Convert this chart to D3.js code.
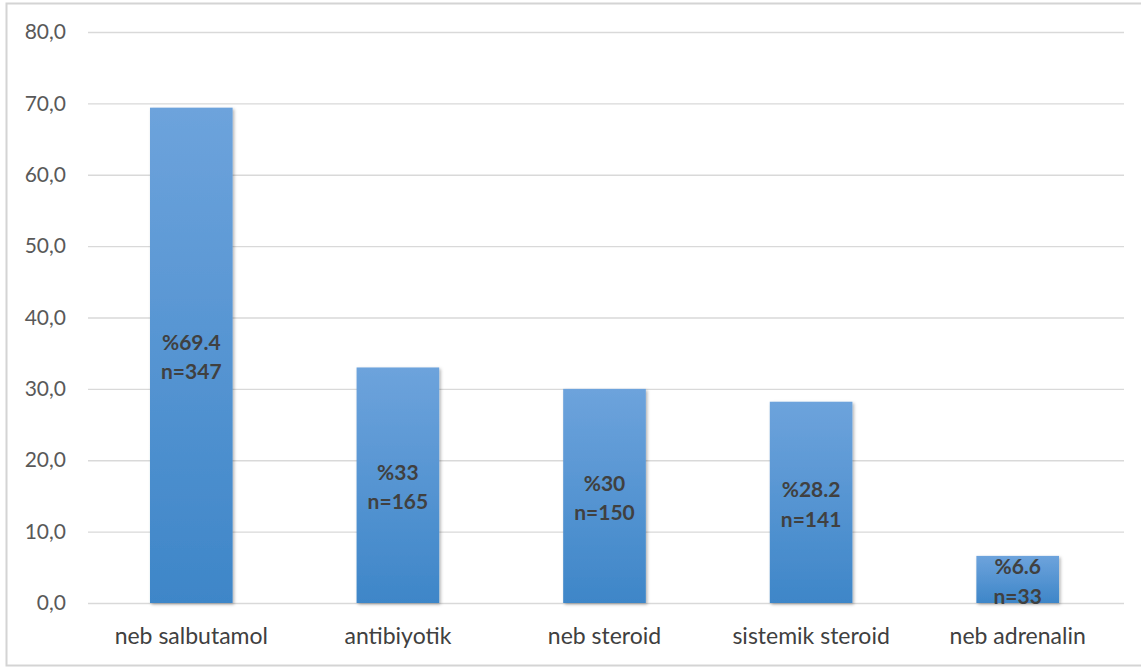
<!DOCTYPE html>
<html>
<head>
<meta charset="utf-8">
<script src="https://cdn.jsdelivr.net/npm/d3@7"></script>
<style>
  html, body { margin: 0; padding: 0; background: #fff; }
  svg { display: block; }
</style>
</head>
<body>
<svg id="chart" width="1141" height="668"></svg>
<script>
// Treatment categories, percentages and patient counts
const categories = ["neb salbutamol", "antibiyotik", "neb steroid", "sistemik steroid", "neb adrenalin"];
const percents = [69.4, 33, 30, 28.2, 6.6];
const counts = [347, 165, 150, 141, 33];
const percentLabels = ["%69.4", "%33", "%30", "%28.2", "%6.6"];
const yTicks = [0, 10, 20, 30, 40, 50, 60, 70, 80];

const svg = d3.select("#chart");
const W = 1141, H = 668;
const margin = { left: 88, right: 20, top: 32, bottom: 65 };
const fontFamily = "Lato, 'Open Sans', 'Liberation Sans', sans-serif";

// Outer frame of the chart area
svg.append("rect")
  .attr("x", 6.5).attr("y", 3.5)
  .attr("width", W + 10).attr("height", 662)
  .attr("fill", "#fff")
  .attr("stroke", "#d4d4d4")
  .attr("stroke-width", 2);

const x = d3.scaleBand()
  .domain(categories)
  .range([margin.left, W - margin.right])
  .paddingInner(0.6)
  .paddingOuter(0.3);

const y = d3.scaleLinear()
  .domain([0, 80])
  .range([H - margin.bottom, margin.top]);

// Gradient for bar fill
const defs = svg.append("defs");
const grad = defs.append("linearGradient")
  .attr("id", "barGrad")
  .attr("x1", 0).attr("y1", 0).attr("x2", 0).attr("y2", 1);
grad.append("stop").attr("offset", "0%").attr("stop-color", "#6da3dc");
grad.append("stop").attr("offset", "100%").attr("stop-color", "#3e86c8");

const shadow = defs.append("filter").attr("id", "barShadow")
  .attr("x", "-10%").attr("y", "-10%").attr("width", "130%").attr("height", "130%");
shadow.append("feDropShadow")
  .attr("dx", 1.5).attr("dy", 1.5).attr("stdDeviation", 1.5)
  .attr("flood-color", "#000").attr("flood-opacity", 0.3);

// Horizontal gridlines and y-axis labels
const yAxis = d3.axisLeft(y)
  .tickValues(yTicks)
  .tickSize(-(W - margin.right - margin.left + 3))
  .tickPadding(20)
  .tickFormat(d => d3.format(".1f")(d).replace(".", ","));

const gy = svg.append("g")
  .attr("transform", `translate(${margin.left},0)`)
  .call(yAxis);
gy.select(".domain").remove();
gy.selectAll(".tick line").attr("stroke", "#d9d9d9").attr("stroke-width", 1.3);
gy.selectAll(".tick text")
  .attr("fill", "#595959")
  .attr("font-family", fontFamily)
  .attr("font-size", 21)
  .attr("x", -22);

// Bars
const data = categories.map((c, i) => ({ c, v: percents[i], n: counts[i], p: percentLabels[i] }));

svg.append("g").selectAll("rect")
  .data(data)
  .join("rect")
  .attr("x", d => x(d.c))
  .attr("y", d => y(d.v))
  .attr("width", x.bandwidth())
  .attr("height", d => y(0) - y(d.v))
  .attr("fill", "url(#barGrad)")
  .attr("filter", "url(#barShadow)");

// Value labels centred inside each bar
const labels = svg.append("g").selectAll("text")
  .data(data)
  .join("text")
  .attr("text-anchor", "middle")
  .attr("font-family", fontFamily)
  .attr("font-weight", "bold")
  .attr("font-size", 21)
  .attr("fill", "#404040")
  .attr("transform", d => `translate(${x(d.c) + x.bandwidth() / 2},${(y(d.v) + y(0)) / 2})`);
labels.append("tspan").attr("x", 0).attr("dy", "-0.25em").text(d => d.p);
labels.append("tspan").attr("x", 0).attr("dy", "1.4em").text(d => "n=" + d.n);

// Category axis labels
const xAxis = d3.axisBottom(x).tickSize(0).tickPadding(25);
const gx = svg.append("g")
  .attr("transform", `translate(0,${y(0)})`)
  .call(xAxis);
gx.select(".domain").remove();
gx.selectAll(".tick text")
  .attr("fill", "#404040")
  .attr("font-family", fontFamily)
  .attr("font-size", 23);
</script>
</body>
</html>
